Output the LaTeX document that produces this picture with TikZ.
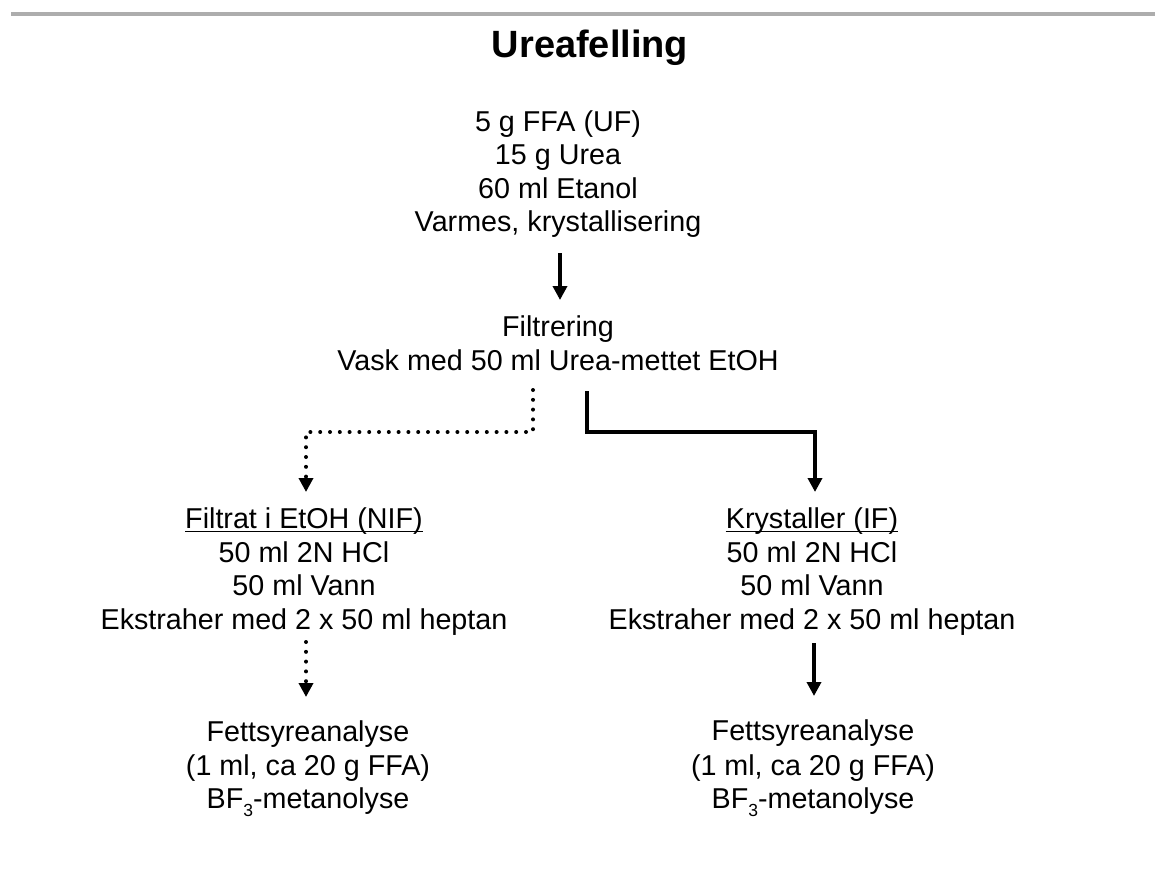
\documentclass[tikz,border=0pt]{standalone}
\usepackage{fontspec}
\setmainfont{Liberation Sans}
\usetikzlibrary{arrows.meta}
\newcommand{\subthree}{\raisebox{-8.5pt}{\fontsize{17.5}{18}\selectfont 3}}
\begin{document}
\begin{tikzpicture}[x=1pt,y=-1pt,
  txt/.style={anchor=base, inner sep=0pt, font=\fontsize{28.7}{33}\selectfont},
  ttl/.style={anchor=base, inner sep=0pt, font=\fontsize{38}{44}\selectfont\bfseries},
  rulestyle/.style={line width=4pt, draw=black!32},
  ulstyle/.style={line width=1.6pt},
  solidarr/.style={line width=4pt, -{Triangle[width=14pt,length=14pt]}},
  dotarr/.style={line width=4pt, line cap=round, dash pattern=on 0pt off 9.8pt, -{Triangle[width=14pt,length=14pt]}},
]
\useasboundingbox (0,0) rectangle (1155,871);

% top rule
\coordinate (ruleL) at (11,14);
\coordinate (ruleR) at (1155,14);
\draw[rulestyle] (ruleL) -- (ruleR);

% title
\node[ttl] (title) at (590,57) {Ureafelling};

% block 1
\node[txt] (b1a) at (558,131.5) {5 g FFA (UF)};
\node[txt] (b1b) at (558,164.8) {15 g Urea};
\node[txt] (b1c) at (558,198.1) {60 ml Etanol};
\node[txt] (b1d) at (558,231.4) {Varmes, krystallisering};

% block 2
\node[txt] (b2a) at (558,336) {Filtrering};
\node[txt] (b2b) at (558,370) {Vask med 50 ml Urea-mettet EtOH};

% left block 3
\node[txt] (l1) at (304,528) {Filtrat i EtOH (NIF)};
\node[txt] (l2) at (304,562) {50 ml 2N HCl};
\node[txt] (l3) at (304,595.5) {50 ml Vann};
\node[txt] (l4) at (304,629.5) {Ekstraher med 2 x 50 ml heptan};
\draw[ulstyle] ([yshift=-3.5pt]l1.base west) -- ([yshift=-3.5pt]l1.base east);

% right block 3
\node[txt] (r1) at (812,528) {Krystaller (IF)};
\node[txt] (r2) at (812,562) {50 ml 2N HCl};
\node[txt] (r3) at (812,595.5) {50 ml Vann};
\node[txt] (r4) at (812,629.5) {Ekstraher med 2 x 50 ml heptan};
\draw[ulstyle] ([yshift=-3.5pt]r1.base west) -- ([yshift=-3.5pt]r1.base east);

% left bottom block
\node[txt] (lb1) at (308,741) {Fettsyreanalyse};
\node[txt] (lb2) at (308,775) {(1 ml, ca 20 g FFA)};
\node[txt] (lb3) at (308,808) {BF\subthree-metanolyse};

% right bottom block
\node[txt] (rb1) at (813,740) {Fettsyreanalyse};
\node[txt] (rb2) at (813,775) {(1 ml, ca 20 g FFA)};
\node[txt] (rb3) at (813,808) {BF\subthree-metanolyse};

% connector coordinates
\coordinate (a1s) at (560,253);
\coordinate (a1e) at (560,300);
\coordinate (ds) at (533,390);
\coordinate (dm1) at (533,432);
\coordinate (dm2) at (306,432);
\coordinate (de) at (306,492);
\coordinate (ss) at (587,391);
\coordinate (sm1) at (587,432);
\coordinate (sm2) at (815,432);
\coordinate (se) at (815,492);
\coordinate (lds) at (306,642);
\coordinate (lde) at (306,697);
\coordinate (rss) at (814,643);
\coordinate (rse) at (814,696);

\draw[solidarr] (a1s) -- (a1e);
\draw[dotarr] (ds) -- (dm1) -- (dm2) -- (de);
\draw[solidarr] (ss) -- (sm1) -- (sm2) -- (se);
\draw[dotarr] (lds) -- (lde);
\draw[solidarr] (rss) -- (rse);
\end{tikzpicture}
\end{document}
